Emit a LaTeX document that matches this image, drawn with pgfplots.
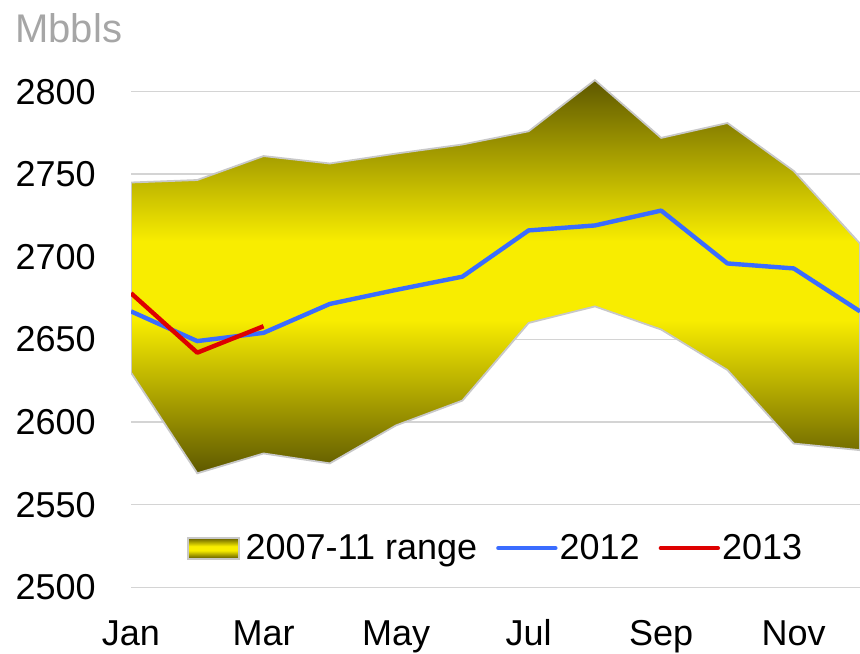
\documentclass[border=0pt]{standalone}
\usepackage{fontspec}
\setmainfont{Liberation Sans}
\usepackage{pgfplots}
\usepackage{pgfplotstable}
\pgfplotsset{compat=1.18}
\usepgfplotslibrary{fillbetween}

\definecolor{bandDark}{RGB}{94,88,0}
\definecolor{bandYellow}{RGB}{248,237,0}
\definecolor{gridGray}{RGB}{212,212,212}
\definecolor{edgeGray}{RGB}{200,200,200}
\definecolor{line2012}{RGB}{58,108,255}
\definecolor{line2013}{RGB}{222,0,0}
\definecolor{unitGray}{RGB}{166,166,166}

% dark at top and bottom of the band, flat yellow in the middle
\pgfdeclareverticalshading{rangeshade}{100bp}{color(0bp)=(bandDark); color(25bp)=(bandDark); color(44.5bp)=(bandYellow); color(54.5bp)=(bandYellow); color(75bp)=(bandDark); color(100bp)=(bandDark)}

\pgfplotsset{
    bandlegend/.style={legend image code/.code={
        \draw[##1] (0pt,-5.25pt) rectangle (25.5pt,5.25pt);
        \path (27.5pt,0pt);}},
    linelegend/.style={legend image code/.code={
        \draw[##1, line cap=round] (0pt,0pt) -- (28.5pt,0pt);}},
}

\pgfplotstableread{
m  upper  lower  y2012
1  2745   2630   2667
2  2746.5 2569   2649
3  2761   2581   2654
4  2756.5 2575   2671.5
5  2762.5 2598   2680
6  2768   2613   2688
7  2776   2660   2716
8  2807   2670   2719
9  2772   2656   2728
10 2781   2631.5 2696
11 2752   2587   2693
12 2708   2583   2667
}\rangedata

\pgfplotstableread{
m y2013
1 2678
2 2642
3 2658
}\thisyear

\begin{document}
\begin{tikzpicture}
\begin{axis}[
    scale only axis,
    width=364.5pt, height=257.75pt,
    xmin=1, xmax=12, ymin=2500, ymax=2812,
    xtick={1,3,5,7,9,11},
    xticklabels={Jan,Mar,May,Jul,Sep,Nov},
    ytick={2500,2550,...,2800},
    ymajorgrids,
    major grid style={gridGray, line width=0.75pt},
    axis line style={draw=none},
    major tick length=0pt,
    tick label style={font=\fontsize{18}{20}\selectfont},
    /pgf/number format/assume math mode=true,
    /pgf/number format/1000 sep={},
    yticklabel style={anchor=east, inner sep=0pt, xshift=-17.5pt},
    xticklabel style={anchor=base, inner sep=0pt, yshift=-28.9pt},
    legend style={at={(0.5,0.076)}, anchor=center, draw=none, fill=none,
                  font=\fontsize{18}{20}\selectfont, inner sep=0pt,
                  nodes={inner sep=1pt},
                  /tikz/every even column/.append style={column sep=8.5pt}},
    legend columns=3,
    legend cell align=left,
]
\addplot[draw=none, name path=upper, forget plot] table[x=m, y=upper] {\rangedata};
\addplot[draw=none, name path=lower, forget plot] table[x=m, y=lower] {\rangedata};
\addplot[shade, shading=rangeshade, draw=edgeGray, line width=0.9pt, bandlegend]
    fill between[of=upper and lower];
\addlegendentry{2007-11 range}
\addplot[line2012, line width=2.2pt, line join=round, linelegend]
    table[x=m, y=y2012] {\rangedata};
\addlegendentry{2012}
\addplot[line2013, line width=2.2pt, line join=round, linelegend]
    table[x=m, y=y2013] {\thisyear};
\addlegendentry{2013}
\end{axis}
\node[anchor=base west, inner sep=0pt, font=\fontsize{20}{24}\selectfont, text=unitGray] at (-58pt,272.15pt) {Mbbls};
\pgfresetboundingbox
\path[use as bounding box] (-65.5pt,-32.85pt) rectangle (364.5pt,293.65pt);
\end{tikzpicture}
\end{document}
